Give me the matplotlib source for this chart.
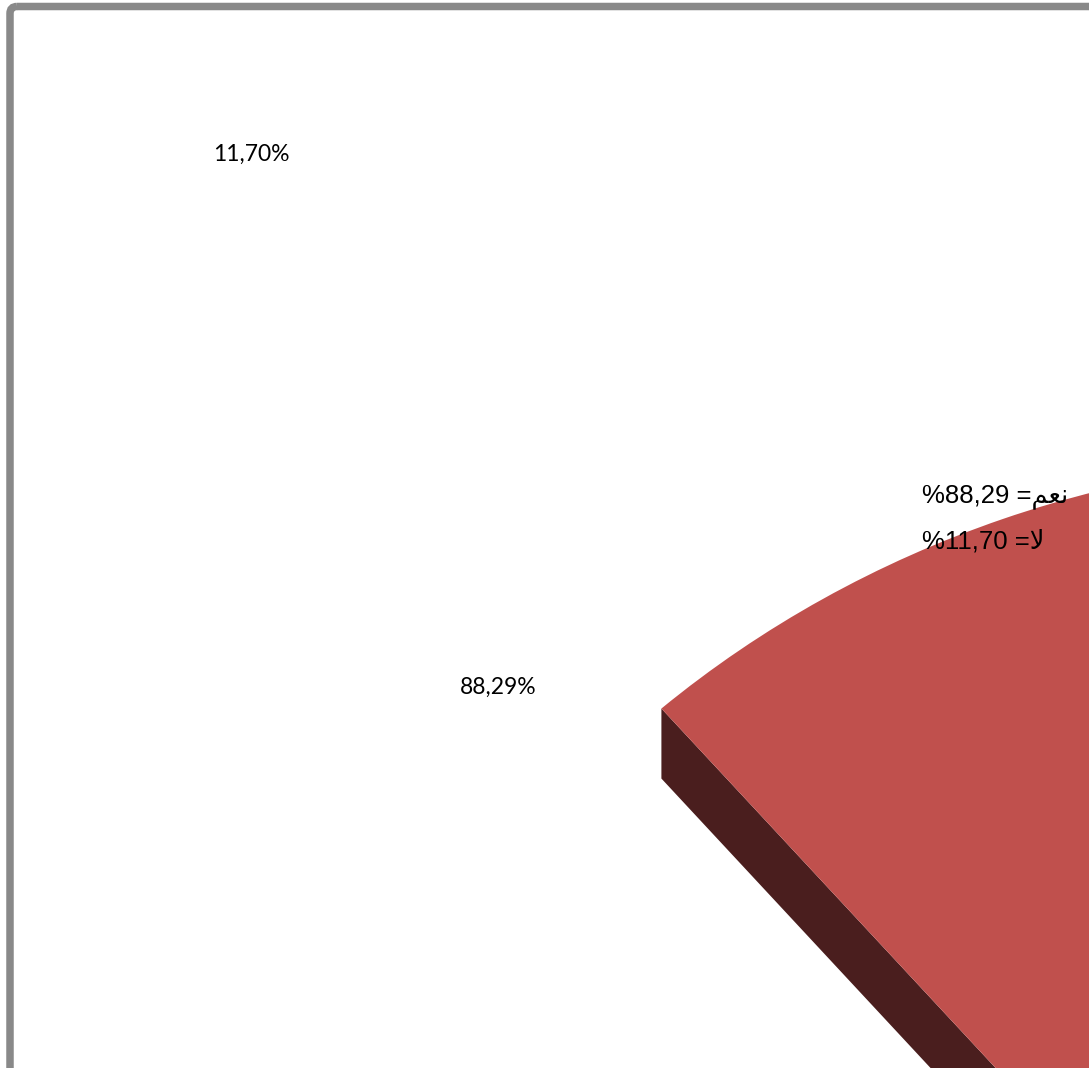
"""Pizza 3D (recorte) - نعم / لا"""
import matplotlib
matplotlib.use('Agg')
import matplotlib.pyplot as plt
import numpy as np
from matplotlib.patches import Polygon, FancyBboxPatch
from matplotlib.transforms import Affine2D

# dados
categories = ['نعم', 'لا']
values = [88.29, 11.70]
value_labels = ['88,29%', '11,70%']
# formas árabes já ligadas (matplotlib não faz shaping RTL)
shaped_categories = ['\ufee2\ufecc\ufee7', '\ufefb']
colors = ['none', '#C0504D']

# geometria do recorte (pixels)
W, H = 1089, 1068
cx, cy = 1375, 1476      # centro da pizza (fora da imagem)
R, k = 1085, 0.939       # raio e achatamento da elipse
depth = 70               # espessura 3D
start_angle = 89

fig = plt.figure(figsize=(W / 100, H / 100), dpi=100)
ax = fig.add_axes([0, 0, 1, 1])

wedges, _ = ax.pie(values, colors=colors, startangle=start_angle, counterclock=False,
                   radius=1, center=(0, 0), wedgeprops={'linewidth': 0})
ellipse = Affine2D().scale(R, -k * R).translate(cx, cy) + ax.transData

# faces laterais (corte radial) desenhadas primeiro
for w, c in zip(wedges, colors):
    w.set_transform(ellipse)
    w.set_zorder(3)
    if c == 'none':
        continue
    for t in (w.theta1, w.theta2):
        ex = cx + R * np.cos(np.radians(t))
        ey = cy - k * R * np.sin(np.radians(t))
        side = Polygon([(ex, ey), (cx, cy), (cx, cy + depth), (ex, ey + depth)],
                       closed=True, facecolor='#4A1E1E', edgecolor='none', zorder=2)
        ax.add_patch(side)

ax.set_aspect('auto')
ax.set_xlim(0, W)
ax.set_ylim(H, 0)
ax.axis('off')

# borda da área do gráfico
border = FancyBboxPatch((10, 6.5), 1400, 1400, boxstyle='round,pad=0,rounding_size=7',
                        facecolor='none', edgecolor='#898989', linewidth=5.4, zorder=10)
ax.add_patch(border)

# rótulos de dados
label_pos = [(498, 694), (251.5, 161)]
for txt, (x, y) in zip(value_labels, label_pos):
    ax.text(x, y, txt, fontsize=16.5, family='Lato', ha='center', va='baseline',
            color='black', zorder=11)

# legenda em texto
legend_y = [502, 549]
for cat, v, y in zip(shaped_categories, values, legend_y):
    num = f"{v:.2f}".replace('.', ',')
    ax.text(922, y, f"%{num} ={cat}", fontsize=18.5, family=['Liberation Sans', 'DejaVu Sans'],
            ha='left', va='baseline', color='black', zorder=11)

plt.savefig('out.png', dpi=100)
plt.close()
